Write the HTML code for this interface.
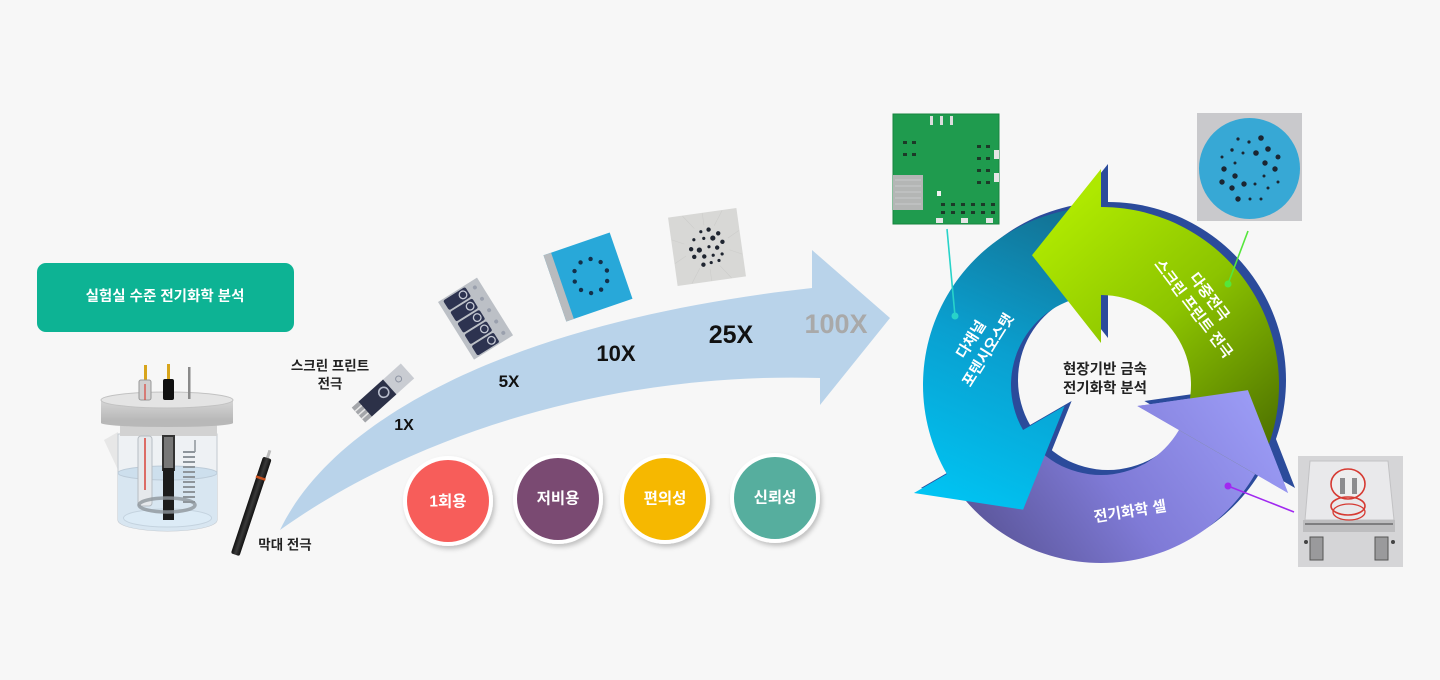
<!DOCTYPE html>
<html><head><meta charset="utf-8">
<style>
html,body{margin:0;padding:0;background:#f7f7f7;}
svg{display:block;}
text{font-family:"Liberation Sans","Noto Sans CJK KR",sans-serif;}
</style></head><body>
<svg width="1440" height="680" viewBox="0 0 1440 680" xmlns="http://www.w3.org/2000/svg">
<defs>
 <linearGradient id="gBlue" gradientUnits="userSpaceOnUse" x1="1090" y1="210" x2="960" y2="510">
  <stop offset="0" stop-color="#146e8e"/><stop offset="0.5" stop-color="#0a9fcf"/><stop offset="1" stop-color="#00c4f3"/>
 </linearGradient>
 <linearGradient id="gGreen" gradientUnits="userSpaceOnUse" x1="1060" y1="220" x2="1270" y2="460">
  <stop offset="0" stop-color="#aee800"/><stop offset="0.45" stop-color="#8cc400"/><stop offset="1" stop-color="#4a6c00"/>
 </linearGradient>
 <linearGradient id="gPurple" gradientUnits="userSpaceOnUse" x1="1250" y1="400" x2="1010" y2="570">
  <stop offset="0" stop-color="#9a9af4"/><stop offset="0.55" stop-color="#7f7ad6"/><stop offset="1" stop-color="#5c579c"/>
 </linearGradient>
 <linearGradient id="gLid" x1="0" y1="0" x2="0" y2="1">
  <stop offset="0" stop-color="#d6d6d6"/><stop offset="1" stop-color="#b4b4b4"/>
 </linearGradient>
 <linearGradient id="gRod" x1="0" y1="0" x2="1" y2="0">
  <stop offset="0" stop-color="#111"/><stop offset="0.5" stop-color="#3a3a3a"/><stop offset="1" stop-color="#111"/>
 </linearGradient>
 <filter id="sh" x="-30%" y="-30%" width="160%" height="160%">
  <feDropShadow dx="2" dy="3" stdDeviation="2.5" flood-color="#000" flood-opacity="0.22"/>
 </filter>
</defs>

<rect width="1440" height="680" fill="#f7f7f7"/>

<!-- Left green box -->
<rect x="37" y="263" width="257" height="69" rx="9" fill="#0db394"/>
<text x="165" y="297" fill="#fff" font-size="14.5" font-weight="bold" text-anchor="middle" dominant-baseline="central">실험실 수준 전기화학 분석</text>

<!-- Beaker -->
<g>
 <path d="M104,440 L118,432 L118,470 Z" fill="#dcdcdc" opacity="0.6"/>
 <path d="M118,434 L118,520 A49.5,11 0 0 0 217,520 L217,434 Z" fill="#eef1f4" stroke="#c3c9cf"/>
 <path d="M118,473 L118,520 A49.5,11 0 0 0 217,520 L217,473 Z" fill="#d8e6f1"/>
 <ellipse cx="167.5" cy="473" rx="49.5" ry="7" fill="#cddfed" stroke="#bccbd8"/>
 <ellipse cx="167.5" cy="518" rx="44" ry="9" fill="#dcebf6" stroke="#c4d3df"/>
 <rect x="120" y="423" width="97" height="13" fill="#d2d2d2"/>
 <rect x="138" y="436" width="14" height="70" rx="3" fill="#e6e9ec" stroke="#b7bdc3"/>
 <line x1="145" y1="438" x2="145" y2="490" stroke="#d9433a" stroke-width="1.5"/>
 <rect x="163" y="436" width="11" height="34" fill="#777" stroke="#333" stroke-width="2"/>
 <rect x="163" y="468" width="11" height="52" fill="#1c1c1c"/>
 <path d="M183,452 h12 M183,457 h12 M183,462 h12 M183,467 h12 M183,472 h12 M183,477 h12 M183,482 h12 M183,487 h12 M183,492 h12 M183,497 h12 M183,502 h12" stroke="#8e959b" stroke-width="2"/>
 <line x1="195" y1="440" x2="195" y2="452" stroke="#8e959b" stroke-width="1.5"/>
 <ellipse cx="167" cy="505" rx="28" ry="7" fill="none" stroke="#8f969c" stroke-width="3.5" opacity="0.8"/>
 <rect x="101" y="400" width="132" height="23" fill="url(#gLid)"/>
 <ellipse cx="167" cy="423" rx="66" ry="4" fill="#b8b8b8"/>
 <ellipse cx="167" cy="400" rx="66" ry="8" fill="#e4e4e4" stroke="#c2c2c2"/>
 <rect x="144" y="365" width="3" height="17" fill="#d8a51c"/>
 <rect x="139" y="380" width="12" height="20" rx="2" fill="#d0d0d0" stroke="#999"/>
 <line x1="145" y1="384" x2="145" y2="400" stroke="#d9433a" stroke-width="1.2"/>
 <rect x="167" y="364" width="3" height="17" fill="#d8a51c"/>
 <rect x="163" y="379" width="11" height="21" rx="2" fill="#111"/>
 <rect x="188" y="367" width="2.5" height="32" fill="#8a8a8a"/>
</g>

<!-- Rod electrode -->
<g transform="translate(268,456) rotate(18.4)">
 <rect x="-1.5" y="-6" width="3" height="9" fill="#bbb"/>
 <rect x="-4.5" y="2" width="9" height="102" rx="2" fill="url(#gRod)"/>
 <rect x="-5" y="22" width="10" height="2.5" fill="#c8501e"/>
</g>
<text x="285" y="545" fill="#222" font-size="13.5" font-weight="bold" text-anchor="middle" dominant-baseline="central">막대 전극</text>
<text x="330" y="366" fill="#222" font-size="13.5" font-weight="bold" text-anchor="middle" dominant-baseline="central">스크린 프린트</text>
<text x="330" y="384" fill="#222" font-size="13.5" font-weight="bold" text-anchor="middle" dominant-baseline="central">전극</text>

<!-- Big curved arrow -->
<path d="M280,530 C335,415 520,320 812,288 L812,250 L890,318 L820,405 L820,378 C620,372 420,430 280,530 Z" fill="#b9d3ea"/>

<!-- 1X electrode -->
<g transform="translate(383,393) rotate(-42)">
 <rect x="-33" y="-10" width="66" height="20" fill="#c9ccd2"/>
 <rect x="-33" y="-10" width="10" height="20" fill="#a4a6aa"/>
 <path d="M-33,-5 h9 M-33,0 h9 M-33,5 h9" stroke="#e6e6e6" stroke-width="1.5"/>
 <rect x="-24" y="-10" width="33" height="20" fill="#2c3148"/>
 <circle cx="1" cy="0" r="5" fill="none" stroke="#b7bccb" stroke-width="1.6"/>
 <circle cx="21" cy="0" r="3" fill="none" stroke="#8d93a2" stroke-width="1"/>
</g>
<text x="404" y="430" fill="#111" font-size="16" font-weight="bold" text-anchor="middle">1X</text>

<!-- 5X array -->
<g transform="translate(438,302) rotate(-32)">
 <rect x="0" y="0" width="46" height="68" fill="#bcc0c6"/>
 <g fill="#2d3350">
  <rect x="5" y="1.5" width="26" height="11.5" rx="2"/>
  <rect x="5" y="14.9" width="26" height="11.5" rx="2"/>
  <rect x="5" y="28.3" width="26" height="11.5" rx="2"/>
  <rect x="5" y="41.7" width="26" height="11.5" rx="2"/>
  <rect x="5" y="55.1" width="26" height="11.5" rx="2"/>
 </g>
 <g fill="none" stroke="#c6cad5" stroke-width="1.3">
  <circle cx="25" cy="7.2" r="3.8"/><circle cx="25" cy="20.6" r="3.8"/><circle cx="25" cy="34" r="3.8"/><circle cx="25" cy="47.4" r="3.8"/><circle cx="25" cy="60.8" r="3.8"/>
 </g>
 <g fill="#9aa0ad">
  <circle cx="39" cy="7.2" r="2"/><circle cx="39" cy="20.6" r="2"/><circle cx="39" cy="34" r="2"/><circle cx="39" cy="47.4" r="2"/><circle cx="39" cy="60.8" r="2"/>
 </g>
</g>
<text x="509" y="387" fill="#111" font-size="17" font-weight="bold" text-anchor="middle">5X</text>

<!-- 10X blue square -->
<g transform="translate(588,277) rotate(-19)">
 <rect x="-35" y="-35" width="70" height="70" fill="#28a8d9"/>
 <rect x="-35" y="-35" width="8" height="70" fill="#b8bbbe"/>
 <g fill="#13304a">
  <circle cx="20" cy="0" r="2.2"/><circle cx="16.8" cy="10" r="2.2"/><circle cx="8.3" cy="16.2" r="2.2"/><circle cx="-2.3" cy="16.2" r="2.2"/><circle cx="-10.8" cy="10" r="2.2"/>
  <circle cx="-14" cy="0" r="2.2"/><circle cx="-10.8" cy="-10" r="2.2"/><circle cx="-2.3" cy="-16.2" r="2.2"/><circle cx="8.3" cy="-16.2" r="2.2"/><circle cx="16.8" cy="-10" r="2.2"/>
 </g>
</g>
<text x="616" y="361" fill="#111" font-size="22" font-weight="bold" text-anchor="middle">10X</text>

<!-- 25X gray square -->
<g transform="translate(707,247) rotate(-8)">
 <rect x="-34.5" y="-34.5" width="69" height="69" fill="#d8d8d6"/>
 <g stroke="#cdcdcb" stroke-width="0.6">
  <path d="M0,-34 L0,-22 M-20,-34 L-10,-20 M20,-34 L10,-20 M-34,-12 L-22,-6 M34,-12 L22,-6 M-34,12 L-22,6 M34,12 L22,6 M-20,34 L-10,20 M20,34 L10,20 M0,34 L0,22"/>
 </g>
 <g fill="#1f2530">
  <circle cx="-4" cy="-16" r="1.6"/><circle cx="4" cy="-17" r="2.2"/><circle cx="13" cy="-12" r="2.2"/><circle cx="-12" cy="-9" r="1.6"/>
  <circle cx="-2" cy="-9" r="1.6"/><circle cx="7" cy="-8" r="2.6"/><circle cx="16" cy="-3" r="2.2"/><circle cx="-16" cy="0" r="2.2"/>
  <circle cx="-8" cy="2" r="2.6"/><circle cx="2" cy="0" r="1.6"/><circle cx="10" cy="2" r="2.2"/><circle cx="-14" cy="8" r="2.2"/>
  <circle cx="-4" cy="9" r="2.2"/><circle cx="5" cy="9" r="1.6"/><circle cx="14" cy="9" r="1.6"/><circle cx="-6" cy="17" r="2.2"/>
  <circle cx="2" cy="16" r="1.6"/><circle cx="10" cy="15" r="1.6"/>
 </g>
</g>
<text x="731" y="343" fill="#111" font-size="25" font-weight="bold" text-anchor="middle">25X</text>
<text x="836" y="333" fill="#a9a9a9" font-size="27" font-weight="bold" text-anchor="middle">100X</text>

<!-- Feature circles -->
<g filter="url(#sh)">
 <circle cx="448" cy="501" r="45" fill="#fff"/>
 <circle cx="558" cy="499" r="45" fill="#fff"/>
 <circle cx="665" cy="499" r="45" fill="#fff"/>
 <circle cx="775" cy="498" r="45" fill="#fff"/>
</g>
<circle cx="448" cy="501" r="41" fill="#f75d5a"/>
<circle cx="558" cy="499" r="41" fill="#7a4a72"/>
<circle cx="665" cy="499" r="41" fill="#f6b800"/>
<circle cx="775" cy="498" r="41" fill="#56ae9e"/>
<g fill="#fff" font-size="15.5" font-weight="bold" text-anchor="middle" dominant-baseline="central">
 <text x="448" y="502">1회용</text>
 <text x="558" y="499">저비용</text>
 <text x="665" y="499">편의성</text>
 <text x="775" y="498">신뢰성</text>
</g>

<!-- Cycle: 3D extrusion -->
<g transform="translate(7,-5)" fill="#2b4b9b">
 <path d="M1101,207 A178,178 0 0 0 946.85,474 L913.94,493 L1023.1,509.66 L1064.6,406 L1023.06,430 A90,90 0 0 1 1101,295 Z"/>
 <path d="M1255.15,474 A178,178 0 0 0 1101,207 L1101,169 L1032,255.2 L1101,343 L1101,295 A90,90 0 0 1 1178.94,430 Z"/>
 <path d="M946.85,474 A178,178 0 0 0 1255.15,474 L1288.06,493 L1247.9,390.1 L1137.37,406 L1178.94,430 A90,90 0 0 1 1023.06,430 Z"/>
</g>
<path d="M946.85,474 A178,178 0 0 0 1255.15,474 L1288.06,493 L1247.9,390.1 L1137.37,406 L1178.94,430 A90,90 0 0 1 1023.06,430 Z" fill="url(#gPurple)"/>
<path d="M1101,207 A178,178 0 0 0 946.85,474 L913.94,493 L1023.1,509.66 L1064.6,406 L1023.06,430 A90,90 0 0 1 1101,295 Z" fill="url(#gBlue)"/>
<path d="M1255.15,474 A178,178 0 0 0 1101,207 L1101,169 L1032,255.2 L1101,343 L1101,295 A90,90 0 0 1 1178.94,430 Z" fill="url(#gGreen)"/>
<path d="M1288.06,493 L1247.9,390.1 L1137.37,406 Z" fill="url(#gPurple)"/>

<!-- cycle text -->
<g fill="#fff" font-size="15" font-weight="bold" text-anchor="middle" dominant-baseline="central">
 <g transform="translate(980,345) rotate(-58)">
  <text x="0" y="-10">다채널</text>
  <text x="0" y="10">포텐시오스탯</text>
 </g>
 <g transform="translate(1201,303) rotate(53)">
  <text x="0" y="-10">다중전극</text>
  <text x="0" y="10">스크린 프린트 전극</text>
 </g>
 <g transform="translate(1130,512) rotate(-9)">
  <text x="0" y="0">전기화학 셀</text>
 </g>
</g>
<g fill="#222" font-size="14.5" font-weight="bold" text-anchor="middle" dominant-baseline="central">
 <text x="1105" y="370">현장기반 금속</text>
 <text x="1105" y="389">전기화학 분석</text>
</g>

<!-- PCB photo -->
<g>
 <rect x="893" y="114" width="106" height="110" fill="#1f9b4e"/>
 <rect x="893" y="114" width="106" height="110" fill="none" stroke="#17843f" stroke-width="1"/>
 <rect x="930" y="116" width="3" height="9" fill="#ddd"/>
 <rect x="940" y="116" width="3" height="9" fill="#ddd"/>
 <rect x="950" y="116" width="3" height="9" fill="#ddd"/>
 <rect x="893" y="175" width="30" height="35" fill="#b4b6b5"/>
 <path d="M895,180 h26 M895,186 h26 M895,192 h26 M895,198 h26 M895,204 h26" stroke="#c9cbca" stroke-width="1"/>
 <g fill="#1c3a28">
  <rect x="903" y="141" width="4" height="3"/><rect x="912" y="141" width="4" height="3"/>
  <rect x="903" y="153" width="4" height="3"/><rect x="912" y="153" width="4" height="3"/>
  <rect x="977" y="145" width="4" height="3"/><rect x="986" y="145" width="4" height="3"/>
  <rect x="977" y="157" width="4" height="3"/><rect x="986" y="157" width="4" height="3"/>
  <rect x="977" y="169" width="4" height="3"/><rect x="986" y="169" width="4" height="3"/>
  <rect x="977" y="181" width="4" height="3"/><rect x="986" y="181" width="4" height="3"/>
  <rect x="941" y="203" width="4" height="3"/><rect x="951" y="203" width="4" height="3"/><rect x="961" y="203" width="4" height="3"/><rect x="971" y="203" width="4" height="3"/><rect x="981" y="203" width="4" height="3"/><rect x="991" y="203" width="4" height="3"/>
  <rect x="941" y="211" width="4" height="3"/><rect x="951" y="211" width="4" height="3"/><rect x="961" y="211" width="4" height="3"/><rect x="971" y="211" width="4" height="3"/><rect x="981" y="211" width="4" height="3"/><rect x="991" y="211" width="4" height="3"/>
 </g>
 <rect x="994" y="150" width="5" height="9" fill="#e6e6e6"/>
 <rect x="994" y="173" width="5" height="9" fill="#e6e6e6"/>
 <rect x="936" y="218" width="7" height="5" fill="#e6e6e6"/>
 <rect x="961" y="218" width="7" height="5" fill="#e6e6e6"/>
 <rect x="986" y="218" width="7" height="5" fill="#e6e6e6"/>
 <rect x="937" y="191" width="4" height="5" fill="#f2f2f2"/>
</g>

<!-- Disc photo -->
<g>
 <rect x="1197" y="113" width="105" height="108" fill="#c9c9cc"/>
 <circle cx="1249.5" cy="168.5" r="50.5" fill="#37a8d5"/>
 <g fill="#1b2632">
  <circle cx="1238" cy="139" r="1.6"/><circle cx="1249" cy="142" r="1.6"/><circle cx="1261" cy="138" r="2.8"/>
  <circle cx="1232" cy="150" r="1.7"/><circle cx="1256" cy="153" r="2.8"/><circle cx="1268" cy="149" r="2.8"/>
  <circle cx="1222" cy="157" r="1.5"/><circle cx="1243" cy="153" r="1.5"/><circle cx="1278" cy="157" r="2.5"/>
  <circle cx="1235" cy="163" r="1.5"/><circle cx="1265" cy="163" r="2.7"/><circle cx="1224" cy="169" r="2.7"/>
  <circle cx="1275" cy="169" r="2.7"/><circle cx="1235" cy="176" r="2.7"/><circle cx="1264" cy="176" r="1.5"/>
  <circle cx="1222" cy="182" r="2.7"/><circle cx="1244" cy="184" r="2.7"/><circle cx="1255" cy="184" r="1.5"/>
  <circle cx="1278" cy="182" r="1.5"/><circle cx="1232" cy="188" r="2.7"/><circle cx="1268" cy="188" r="1.5"/>
  <circle cx="1238" cy="199" r="2.7"/><circle cx="1250" cy="199" r="1.5"/><circle cx="1261" cy="199" r="1.5"/>
 </g>
</g>

<!-- Cell photo -->
<g>
 <rect x="1298" y="456" width="105" height="111" fill="#d5d5d7"/>
 <path d="M1310,461 L1388,461 L1394,520 L1305,520 Z" fill="#e9e9eb" stroke="#c2c2c4"/>
 <rect x="1303" y="520" width="92" height="12" fill="#bdbdbf"/>
 <path d="M1305,524 h88" stroke="#7e7e80" stroke-width="2"/>
 <ellipse cx="1348" cy="484" rx="17" ry="15" fill="#eeeeee" stroke="#d63a32" stroke-width="1.6"/>
 <rect x="1340" y="478" width="5" height="16" fill="#8c8c8e"/>
 <rect x="1352" y="478" width="5" height="16" fill="#8c8c8e"/>
 <ellipse cx="1348" cy="506" rx="17" ry="9" fill="none" stroke="#d63a32" stroke-width="1.6"/>
 <ellipse cx="1349" cy="512" rx="16" ry="8" fill="none" stroke="#d63a32" stroke-width="1.3"/>
 <rect x="1310" y="537" width="13" height="23" fill="#9a9a9c" stroke="#555" stroke-width="1"/>
 <rect x="1375" y="537" width="13" height="23" fill="#9a9a9c" stroke="#555" stroke-width="1"/>
 <circle cx="1306" cy="542" r="2" fill="#444"/><circle cx="1393" cy="542" r="2" fill="#444"/>
</g>

<!-- Connector lines -->
<line x1="947" y1="229" x2="955" y2="316" stroke="#28d3c9" stroke-width="1.6"/>
<circle cx="955" cy="316" r="3.5" fill="#28d3c9"/>
<line x1="1248" y1="231" x2="1228" y2="284" stroke="#55e63b" stroke-width="1.6"/>
<circle cx="1228" cy="284" r="3.5" fill="#55e63b"/>
<line x1="1228" y1="486" x2="1294" y2="512" stroke="#a129f0" stroke-width="1.6"/>
<circle cx="1228" cy="486" r="3.5" fill="#a129f0"/>
</svg>
</body></html>
